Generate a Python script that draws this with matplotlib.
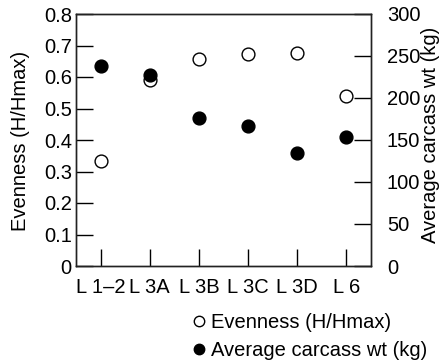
import matplotlib
matplotlib.use("Agg")
import matplotlib.pyplot as plt
from matplotlib.lines import Line2D

plt.rcParams['font.family'] = ['Liberation Sans', 'DejaVu Sans']

categories = ["L 1\u20132", "L 3A", "L 3B", "L 3C", "L 3D", "L 6"]
evenness = [0.333, 0.592, 0.658, 0.674, 0.675, 0.540]
carcass_wt = [238, 227, 176, 167, 134, 153]

W, H = 442, 363
FS = 14.5

fig = plt.figure(figsize=(W / 100, H / 100), dpi=100)
ax = fig.add_axes([76 / W, 1 - 266 / H, (371 - 76) / W, (266 - 14) / H])
ax2 = ax.twinx()

x = list(range(len(categories)))
ax.scatter(x, evenness, s=85, facecolors='white', edgecolors='black', linewidths=1.0, zorder=3)
ax2.scatter(x, carcass_wt, s=85, facecolors='black', edgecolors='black', linewidths=1.0, zorder=3)

ax.set_xlim(-0.5, 5.5)
ax.set_ylim(0, 0.8)
ax2.set_ylim(0, 300)
ax.set_xticks(x)
ax.set_xticklabels(categories)
ax.set_yticks([0, 0.1, 0.2, 0.3, 0.4, 0.5, 0.6, 0.7, 0.8])
ax.set_yticklabels(["0", "0.1", "0.2", "0.3", "0.4", "0.5", "0.6", "0.7", "0.8"])
ax2.set_yticks([0, 50, 100, 150, 200, 250, 300])

ax.tick_params(axis='y', direction='in', length=12, width=1, labelsize=FS, pad=3)
ax.tick_params(axis='x', direction='in', length=12, width=1, labelsize=FS, pad=8.5)
ax2.tick_params(axis='y', direction='in', length=12, width=1, labelsize=FS, pad=11.5)

fig.text(21 / W, 1 - 141 / H, "Evenness (H/Hmax)", rotation=90, ha='center', va='center', fontsize=FS)
fig.text(430 / W, 1 - 135 / H, "Average carcass wt (kg)", rotation=90, ha='center', va='center', fontsize=FS)

for a in (ax, ax2):
    for s in a.spines.values():
        s.set_linewidth(1.0)
        s.set_color('#222222')

handles = [
    Line2D([], [], marker='o', linestyle='none', markerfacecolor='white', markeredgecolor='black', markersize=7.5),
    Line2D([], [], marker='o', linestyle='none', markerfacecolor='black', markeredgecolor='black', markersize=7.5),
]
fig.legend(handles, ["Evenness (H/Hmax)", "Average carcass wt (kg)"], loc='upper left',
           bbox_to_anchor=(193 / W, 1 - 313 / H), frameon=False, fontsize=FS,
           handletextpad=0.3, labelspacing=0.45, handlelength=0.6, borderaxespad=0, borderpad=0)

fig.savefig("out.png", dpi=100)
